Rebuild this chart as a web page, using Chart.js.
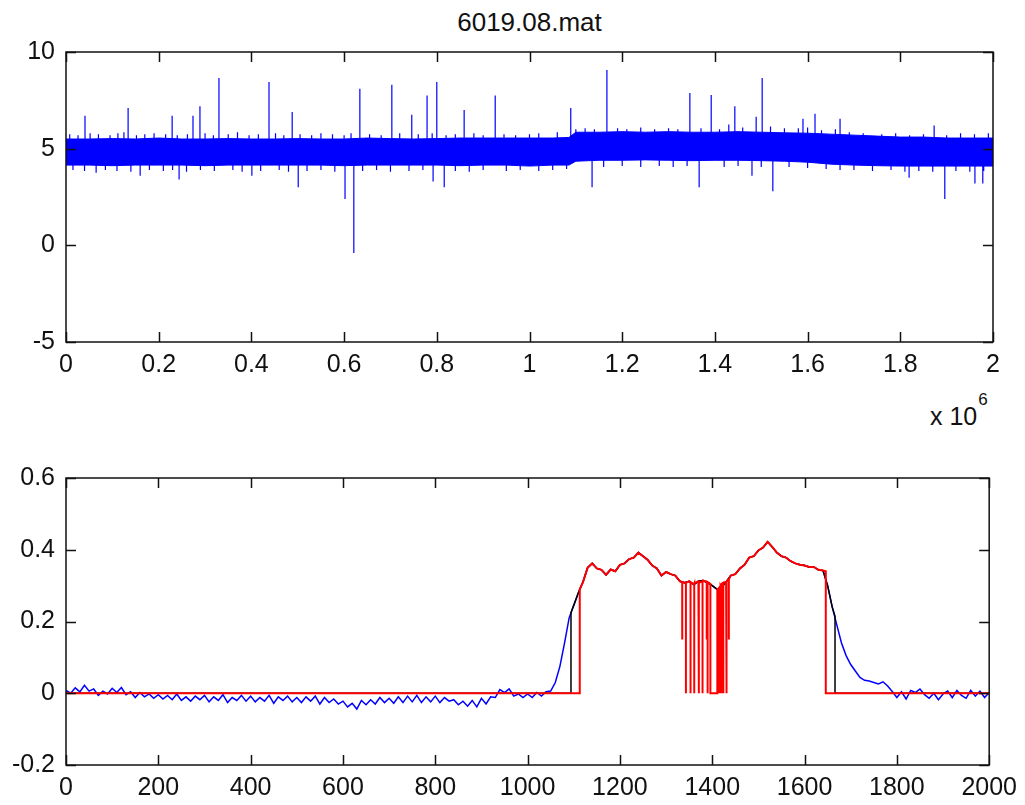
<!DOCTYPE html>
<html>
<head>
<meta charset="utf-8">
<script src="https://cdn.jsdelivr.net/npm/chart.js@4.4.1/dist/chart.umd.min.js"></script>
<style>
  body { margin: 0; background: #fff; width: 1025px; height: 805px; position: relative; overflow: hidden;
         font-family: "Liberation Sans", Arial, sans-serif; color: #111; }
  canvas { position: absolute; left: 0; }
  #title { position: absolute; top: 10px; left: 0; width: 1059px; text-align: center; font-size: 26px; line-height: 25px; }
  #expo { position: absolute; left: 930px; top: 404px; font-size: 25px; line-height: 25px; }
  #expo span { font-size: 17px; position: relative; top: -20px; margin-left: 1px; }
</style>
</head>
<body>
<div id="title">6019.08.mat</div>
<div id="expo">x 10<span>6</span></div>
<canvas id="topChart" width="1025" height="400" style="top:0"></canvas>
<canvas id="bottomChart" width="1025" height="405" style="top:400px"></canvas>
<script>
// ---- top panel: raw recording (x in millions of samples) ----
const bandX = [0, 0.05, 0.1, 0.15, 0.2, 0.25, 0.3, 0.35, 0.4, 0.45,
               0.5, 0.55, 0.6, 0.65, 0.7, 0.75, 0.8, 0.85, 0.9, 0.95,
               1.0, 1.05, 1.085, 1.1, 1.15, 1.2, 1.25, 1.3, 1.35, 1.4, 1.45,
               1.5, 1.55, 1.6, 1.65, 1.7, 1.75, 1.8, 1.85, 1.9, 1.95, 2.0];
const bandTop = [5.5, 5.5, 5.52, 5.5, 5.55, 5.5, 5.5, 5.52, 5.5, 5.5,
                 5.52, 5.5, 5.5, 5.55, 5.52, 5.5, 5.52, 5.55, 5.55, 5.55,
                 5.55, 5.55, 5.58, 5.85, 5.85, 5.88, 5.85, 5.88, 5.85, 5.85, 5.88,
                 5.85, 5.82, 5.8, 5.75, 5.7, 5.65, 5.6, 5.6, 5.55, 5.55, 5.55];
const bandBottom = [4.15, 4.15, 4.12, 4.15, 4.15, 4.15, 4.12, 4.15, 4.15, 4.15,
                    4.15, 4.15, 4.12, 4.15, 4.15, 4.15, 4.15, 4.12, 4.15, 4.15,
                    4.1, 4.15, 4.15, 4.35, 4.4, 4.4, 4.42, 4.4, 4.38, 4.4, 4.4,
                    4.38, 4.35, 4.3, 4.2, 4.15, 4.12, 4.1, 4.1, 4.1, 4.1, 4.1];

// big spikes
const spikeX = [0.041, 0.134, 0.229, 0.274, 0.289, 0.330, 0.438, 0.488, 0.634, 0.703, 0.746, 0.779, 0.800,
                0.859, 0.926, 1.089, 1.167, 1.346, 1.392, 1.443, 1.489, 1.502, 1.590, 1.616, 1.670, 1.873,
                0.065, 0.160, 0.244, 0.401, 0.501, 0.602, 0.621, 0.792, 0.816, 1.135, 1.366, 1.480, 1.525,
                1.819, 1.896, 1.961, 1.978];
const spikePeak = [6.7, 7.1, 6.7, 6.7, 7.2, 8.65, 8.45, 6.9, 8.1, 8.3, 6.75, 7.75, 8.45,
                   7.0, 7.75, 7.1, 9.07, 7.88, 7.78, 7.2, 6.65, 8.65, 6.55, 6.8, 6.55, 6.2,
                   3.75, 3.6, 3.4, 3.6, 3.0, 2.4, -0.4, 3.3, 3.0, 3.0, 3.0, 3.6, 2.8,
                   3.5, 2.4, 3.2, 3.2];

// small whiskers on the edges of the noise band
const whiskUpX = [0.008, 0.026, 0.052, 0.07, 0.095, 0.112, 0.125, 0.152, 0.17, 0.19, 0.215, 0.24, 0.262, 0.3,
                  0.318, 0.35, 0.37, 0.395, 0.415, 0.452, 0.47, 0.505, 0.53, 0.55, 0.575, 0.6, 0.615, 0.655,
                  0.68, 0.72, 0.76, 0.79, 0.82, 0.84, 0.88, 0.9, 0.945, 0.97, 1.0, 1.02, 1.06, 1.1, 1.12,
                  1.14, 1.19, 1.21, 1.24, 1.27, 1.3, 1.32, 1.37, 1.41, 1.43, 1.46, 1.52, 1.55, 1.58, 1.6,
                  1.63, 1.66, 1.69, 1.72, 1.76, 1.79, 1.82, 1.85, 1.9, 1.93, 1.96, 1.99];
const whiskUpY = [5.75, 5.7, 5.8, 5.75, 5.7, 5.8, 5.85, 5.7, 5.75, 5.8, 5.75, 5.7, 5.75, 5.8,
                  5.7, 5.75, 5.85, 5.7, 5.75, 5.8, 5.7, 5.75, 5.7, 5.8, 5.75, 5.7, 5.8, 5.75,
                  5.7, 5.8, 5.75, 5.8, 5.7, 5.75, 5.8, 5.7, 5.75, 5.7, 5.75, 5.8, 5.85, 6.0, 6.05,
                  6.0, 6.05, 6.0, 6.1, 6.0, 6.05, 6.0, 6.05, 6.0, 6.25, 6.1, 6.15, 6.05, 6.05, 6.1,
                  5.95, 6.0, 5.85, 5.8, 5.75, 5.8, 5.7, 5.75, 5.7, 5.8, 5.75, 5.8];
const whiskDownX = [0.015, 0.04, 0.085, 0.11, 0.14, 0.18, 0.21, 0.23, 0.26, 0.29, 0.32, 0.36, 0.38, 0.42,
                    0.46, 0.48, 0.52, 0.55, 0.58, 0.64, 0.67, 0.7, 0.74, 0.77, 0.84, 0.87, 0.9, 0.95,
                    0.98, 1.02, 1.05, 1.08, 1.16, 1.2, 1.24, 1.28, 1.31, 1.34, 1.42, 1.45, 1.5, 1.56,
                    1.6, 1.64, 1.67, 1.7, 1.74, 1.78, 1.81, 1.84, 1.87, 1.92, 1.95, 1.98];
const whiskDownY = [3.9, 3.85, 3.9, 3.85, 3.8, 3.9, 3.85, 3.9, 3.8, 3.9, 3.85, 3.9, 3.8, 3.85,
                    3.9, 3.8, 3.85, 3.9, 3.8, 3.85, 3.9, 3.8, 3.85, 3.9, 3.85, 3.8, 3.9, 3.85,
                    3.9, 3.85, 3.9, 3.95, 4.05, 4.1, 4.05, 4.1, 4.05, 4.1, 4.05, 4.1, 4.05, 4.05,
                    4.0, 3.95, 3.9, 3.9, 3.85, 3.9, 3.8, 3.85, 3.8, 3.85, 3.8, 3.85];

// ---- bottom panel: detector output, one value every 10 samples ----
const sigStep = 10;
const sig = [
  0.008, 0.0, 0.015, 0.004, 0.022, 0.006, 0.012, -0.006, 0.006, -0.002,
  0.014, 0.002, 0.016, -0.004, 0.004, -0.012, 0.002, -0.01, -0.002, -0.014,
  -0.004, -0.016, -0.006, -0.018, -0.002, -0.02, -0.01, -0.022, -0.008, -0.018,
  -0.006, -0.024, -0.01, -0.02, -0.004, -0.026, -0.012, -0.02, -0.006, -0.022,
  -0.008, -0.024, -0.012, -0.022, -0.006, -0.028, -0.01, -0.02, -0.008, -0.024,
  -0.012, -0.026, -0.01, -0.022, -0.008, -0.03, -0.012, -0.026, -0.016, -0.03,
  -0.022, -0.038, -0.028, -0.044, -0.02, -0.032, -0.018, -0.03, -0.012, -0.026,
  -0.014, -0.028, -0.01, -0.026, -0.008, -0.024, -0.006, -0.026, -0.01, -0.024,
  -0.008, -0.026, -0.012, -0.022, -0.018, -0.032, -0.022, -0.036, -0.02, -0.038,
  -0.014, -0.03, -0.01, -0.012, 0.01, 0.002, 0.012, -0.008, -0.002, -0.012,
  -0.002, -0.012, 0.002, -0.008, 0.004, 0.006, 0.03, 0.075, 0.14, 0.21,
  0.245, 0.28, 0.31, 0.35, 0.362, 0.348, 0.344, 0.33, 0.345, 0.34,
  0.358, 0.362, 0.374, 0.378, 0.392, 0.382, 0.372, 0.356, 0.348, 0.328,
  0.338, 0.332, 0.328, 0.312, 0.308, 0.312, 0.303, 0.312, 0.314, 0.308,
  0.3, 0.29, 0.295, 0.31, 0.328, 0.332, 0.348, 0.358, 0.378, 0.382,
  0.398, 0.406, 0.422, 0.408, 0.392, 0.382, 0.378, 0.368, 0.362, 0.358,
  0.356, 0.352, 0.352, 0.344, 0.342, 0.3, 0.24, 0.19, 0.14, 0.105,
  0.08, 0.062, 0.044, 0.036, 0.034, 0.03, 0.026, 0.032, 0.02, 0.005,
  -0.012, 0.004, -0.016, 0.008, 0.002, 0.012, -0.004, -0.014, 0.0, -0.018,
  -0.002, 0.006, -0.012, 0.008, -0.006, -0.014, 0.008, -0.008, 0.006, -0.012,
  0.002
];
// black trace: on between these samples
const blackOn = [1094, 1666];
const blackEdgeY = [0.225, 0.215];
// red trace: on between these samples, with drop-outs
const redOn = [1113, 1646];
const redEdgeY = [0.29, 0.34];
const redDropX = [1335, 1343, 1353, 1361, 1371, 1379, 1388, 1390, 1414, 1418, 1421, 1424, 1431, 1436];
const redDropTop = [0.31, 0.308, 0.31, 0.306, 0.308, 0.312, 0.31, 0.31, 0.292, 0.3, 0.305, 0.308, 0.312, 0.318];
const redDropBottom = [0.15, 0, 0, 0, 0, 0, 0.15, 0, 0, 0, 0, 0, 0, 0.15];
const redZero = [1396, 1411];
const redZeroEdgeY = [0.305, 0.29];

const M = 1e6;
const BLUE = '#0000ff';

Chart.defaults.font.family = "'Liberation Sans', Arial, sans-serif";
Chart.defaults.font.size = 25;
Chart.defaults.color = '#111';

const boxPlugin = {
  id: 'box',
  afterDatasetsDraw(chart) {
    const { ctx, chartArea: a, scales: { x, y } } = chart;
    const len = 10;
    ctx.save();
    ctx.strokeStyle = '#111';
    ctx.lineWidth = 1.5;
    ctx.strokeRect(a.left, a.top, a.right - a.left, a.bottom - a.top);
    ctx.beginPath();
    x.ticks.forEach(t => {
      const p = Math.round(x.getPixelForValue(t.value)) + 0.5;
      ctx.moveTo(p, a.bottom); ctx.lineTo(p, a.bottom - len);
      ctx.moveTo(p, a.top); ctx.lineTo(p, a.top + len);
    });
    y.ticks.forEach(t => {
      const p = Math.round(y.getPixelForValue(t.value)) + 0.5;
      ctx.moveTo(a.left, p); ctx.lineTo(a.left + len, p);
      ctx.moveTo(a.right, p); ctx.lineTo(a.right - len, p);
    });
    ctx.stroke();
    ctx.restore();
  }
};

function lineSet(data, color, width, extra) {
  return Object.assign({ data, borderColor: color, borderWidth: width, pointRadius: 0,
                         tension: 0, fill: false, spanGaps: false }, extra || {});
}

function makeChart(id, datasets, xr, yr, padding, fmt) {
  return new Chart(document.getElementById(id), {
    type: 'line',
    data: { datasets },
    plugins: [boxPlugin],
    options: {
      responsive: false,
      animation: false,
      devicePixelRatio: 1,
      layout: { padding },
      plugins: { legend: { display: false }, tooltip: { enabled: false }, title: { display: false } },
      scales: {
        x: {
          type: 'linear', min: xr[0], max: xr[1],
          grid: { display: false, drawTicks: false }, border: { display: false },
          ticks: { stepSize: xr[2], padding: 8, maxRotation: 0, autoSkip: false, callback: fmt },
          afterFit: s => { s.height = xr[3]; }
        },
        y: {
          type: 'linear', min: yr[0], max: yr[1],
          grid: { display: false, drawTicks: false }, border: { display: false },
          ticks: { stepSize: yr[2], padding: 11,
                   callback: v => String(parseFloat(v.toFixed(2))) },
          afterFit: s => { s.width = 66; }
        }
      }
    }
  });
}

// top datasets
const bandTopPts = bandTop.map((v, i) => ({ x: bandX[i] * M, y: v }));
const bandBotPts = bandBottom.map((v, i) => ({ x: bandX[i] * M, y: v }));
const spikePts = [];
function addSticks(xs, ys) {
  xs.forEach((x, i) => {
    spikePts.push({ x: x * M, y: 5 }, { x: x * M, y: ys[i] }, { x: x * M, y: null });
  });
}
addSticks(whiskUpX, whiskUpY);
addSticks(whiskDownX, whiskDownY);
addSticks(spikeX, spikePeak);

makeChart('topChart', [
  lineSet(spikePts, BLUE, 1.2),
  lineSet(bandTopPts, BLUE, 1, { fill: '+1', backgroundColor: BLUE }),
  lineSet(bandBotPts, BLUE, 1)
], [0, 2 * M, 0.2 * M, 40], [-5, 10, 5], { top: 52, right: 32, bottom: 18, left: 0 },
  v => String(parseFloat((v / M).toFixed(1))));

// bottom datasets
const sigPts = sig.map((v, i) => ({ x: i * sigStep, y: v }));

const blackPts = [{ x: 0, y: 0 }, { x: blackOn[0], y: 0 }, { x: blackOn[0], y: blackEdgeY[0] }];
sigPts.forEach(p => { if (p.x > blackOn[0] && p.x < blackOn[1]) blackPts.push(p); });
blackPts.push({ x: blackOn[1], y: blackEdgeY[1] }, { x: blackOn[1], y: 0 }, { x: 2000, y: 0 });

const redMid = [];
sigPts.forEach(p => {
  if (p.x > redOn[0] && p.x < redOn[1] && !(p.x >= redZero[0] && p.x <= redZero[1])) redMid.push(p);
});
redDropX.forEach((x, i) => {
  redMid.push({ x, y: redDropTop[i] }, { x, y: redDropBottom[i] }, { x, y: redDropTop[i] });
});
redMid.push({ x: redZero[0], y: redZeroEdgeY[0] }, { x: redZero[0], y: 0 },
            { x: redZero[1], y: 0 }, { x: redZero[1], y: redZeroEdgeY[1] });
redMid.sort((a, b) => a.x - b.x);
const redPts = [{ x: 0, y: 0 }, { x: redOn[0], y: 0 }, { x: redOn[0], y: redEdgeY[0] }]
  .concat(redMid, [{ x: redOn[1], y: redEdgeY[1] }, { x: redOn[1], y: 0 }, { x: 2000, y: 0 }]);

makeChart('bottomChart', [
  lineSet(redPts, '#ff0000', 2),
  lineSet(blackPts, '#000000', 1.5),
  lineSet(sigPts, BLUE, 1.5)
], [0, 2000, 200, 35], [-0.2, 0.6, 0.2], { top: 78, right: 32, bottom: 5, left: 0 },
  v => String(v));
</script>
</body>
</html>
